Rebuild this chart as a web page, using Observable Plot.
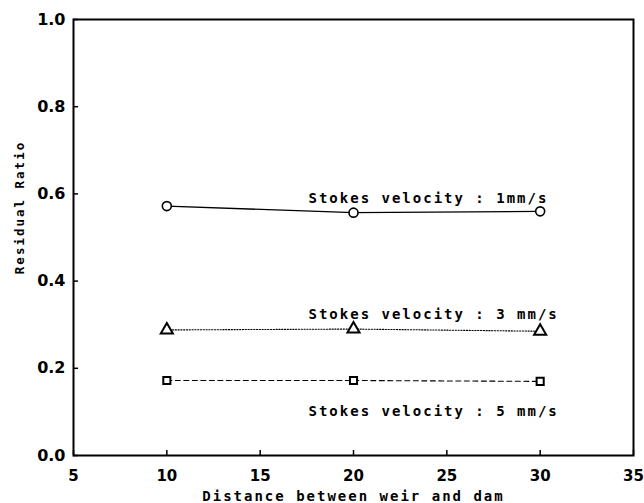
<!DOCTYPE html>
<html>
<head>
<meta charset="utf-8">
<script src="https://cdn.jsdelivr.net/npm/d3@7"></script>
<script src="https://cdn.jsdelivr.net/npm/@observablehq/plot@0.6"></script>
<style>
  html, body { margin: 0; padding: 0; background: #fff; }
  #chart svg { display: block; }
</style>
</head>
<body>
<div id="chart"></div>
<script>
const distance = [10, 20, 30];
const v1 = [0.572, 0.557, 0.560];
const v3 = [0.288, 0.290, 0.285];
const v5 = [0.172, 0.172, 0.170];
const seriesNames = ["Stokes velocity : 1mm/s", "Stokes velocity : 3 mm/s", "Stokes velocity : 5 mm/s"];
const xTicks = [5, 10, 15, 20, 25, 30, 35];
const yTicks = [0.0, 0.2, 0.4, 0.6, 0.8, 1.0];
const xLabel = "Distance between weir and dam";
const yLabel = "Residual Ratio";

const mk = (vals, name) => distance.map((d, i) => ({x: d, y: vals[i], name}));
const s1 = mk(v1, seriesNames[0]);
const s3 = mk(v3, seriesNames[1]);
const s5 = mk(v5, seriesNames[2]);

const mono = "'DejaVu Sans Mono', monospace";
const labelStyle = {fontFamily: mono, fontSize: 14, fontWeight: "bold", fill: "black", textAnchor: "start", lineAnchor: "bottom"};

const chart = Plot.plot({
  width: 644,
  height: 503,
  marginLeft: 73,
  marginRight: 11,
  marginTop: 19,
  marginBottom: 48,
  x: {domain: [5, 35], ticks: xTicks},
  y: {domain: [0, 1], ticks: yTicks},
  style: {fontFamily: "'DejaVu Sans', sans-serif", background: "white", color: "black"},
  marks: [
    Plot.line(s1, {x: "x", y: "y", stroke: "black", strokeWidth: 1.3}),
    Plot.line(s3, {x: "x", y: "y", stroke: "black", strokeWidth: 1.1, strokeDasharray: "1.2,1.6"}),
    Plot.line(s5, {x: "x", y: "y", stroke: "black", strokeWidth: 1.1, strokeDasharray: "5,3.5"}),
    Plot.dot(s1, {x: "x", y: "y", symbol: "circle", r: 4.5, stroke: "black", strokeWidth: 1.6, fill: "white"}),
    Plot.dot(s3, {x: "x", y: "y", symbol: "triangle", r: 4.5, stroke: "black", strokeWidth: 2, fill: "white"}),
    Plot.dot(s5, {x: "x", y: "y", symbol: "square", r: 4, stroke: "black", strokeWidth: 2, fill: "white"}),
    Plot.text([s1[1]], {x: "x", y: "y", text: "name", dx: -45, dy: -10, ...labelStyle}),
    Plot.text([s3[1]], {x: "x", y: "y", text: "name", dx: -45, dy: -10, ...labelStyle}),
    Plot.text([s5[1]], {x: "x", y: "y", text: "name", dx: -45, dy: 35, ...labelStyle}),
    Plot.frame({stroke: "black", strokeWidth: 2}),
    Plot.axisX({ticks: xTicks, tickSize: 5, dy: -5, text: null, label: null, stroke: "black", strokeWidth: 1.5}),
    Plot.axisY({ticks: yTicks, tickSize: 5, dx: 5, text: null, label: null, stroke: "black", strokeWidth: 1.5}),
    Plot.axisX({ticks: xTicks, tickSize: 0, tickPadding: 15, fontSize: 15, fontWeight: "bold", label: null, tickFormat: d3.format("d")}),
    Plot.axisY({ticks: yTicks, tickSize: 0, tickPadding: 8, fontSize: 16, fontWeight: "bold", label: null, tickFormat: d3.format(".1f")}),
    Plot.text([xLabel], {frameAnchor: "bottom", dy: 45, fontFamily: mono, fontSize: 14, fontWeight: "bold", lineAnchor: "bottom", textAnchor: "middle", fill: "black", text: d => d}),
    Plot.text([yLabel], {frameAnchor: "left", dx: -54, dy: -30, rotate: -90, fontFamily: mono, fontSize: 12.5, fontWeight: "bold", textAnchor: "middle", fill: "black", text: d => d})
  ]
});
document.getElementById("chart").appendChild(chart);
// wide letter spacing to mimic the plotter lettering
chart.querySelectorAll("g[aria-label='text'] text").forEach(t => t.setAttribute("letter-spacing", "2"));
</script>
</body>
</html>
